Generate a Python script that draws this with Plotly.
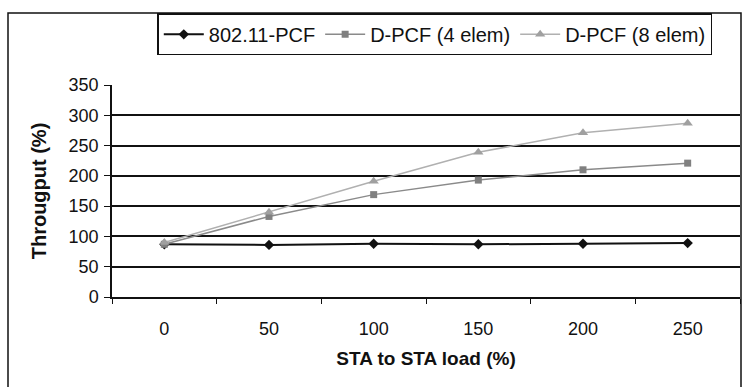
import plotly.graph_objects as go

loads = ["0", "50", "100", "150", "200", "250"]
pcf = [87, 86, 88, 87, 88, 89]
dpcf4 = [87, 133, 169, 193, 210, 221]
dpcf8 = [90, 140, 191, 239, 271, 287]

font = "Liberation Sans, Arial, sans-serif"

fig = go.Figure()
fig.add_trace(go.Scatter(x=loads, y=pcf, name="802.11-PCF", mode="lines+markers",
                         line=dict(color="#111111", width=2),
                         marker=dict(symbol="diamond", size=8, color="#111111")))
fig.add_trace(go.Scatter(x=loads, y=dpcf4, name="D-PCF (4 elem)", mode="lines+markers",
                         line=dict(color="#8a8a8a", width=1.5),
                         marker=dict(symbol="square", size=7, color="#808080")))
fig.add_trace(go.Scatter(x=loads, y=dpcf8, name="D-PCF (8 elem)", mode="lines+markers",
                         line=dict(color="#b0b0b0", width=1.5),
                         marker=dict(symbol="triangle-up", size=9, color="#a0a0a0")))

fig.update_layout(
    width=743, height=387,
    margin=dict(l=112, r=3, t=85, b=90),
    paper_bgcolor="white", plot_bgcolor="white",
    font=dict(family=font, size=18, color="#111111"),
    showlegend=True,
    legend=dict(orientation="h", x=0.514, xanchor="center", y=1.338, yanchor="top",
                bordercolor="#111111", borderwidth=1.5, font=dict(size=20),
                bgcolor="white", itemwidth=40, tracegroupgap=0),
    xaxis=dict(type="category", showgrid=False, showline=True, linecolor="#111111", linewidth=1.5,
               ticks="outside", ticklen=5, tickcolor="#111111", tickson="boundaries",
               ticklabelstandoff=15,
               title=dict(text="<b>STA to STA load (%)</b>", font=dict(size=19), standoff=13),
               range=[-0.5, 5.5]),
    yaxis=dict(range=[0, 350], dtick=50, showgrid=True, gridcolor="#111111", gridwidth=1.5,
               showline=True, linecolor="#111111", linewidth=1.5,
               ticks="outside", ticklen=6, tickcolor="#111111",
               ticklabelstandoff=2, zeroline=False,
               title=dict(text="<b>Througput (%)</b>", font=dict(size=20), standoff=17)),
    shapes=[dict(type="rect", xref="paper", yref="paper",
                 x0=(8 - 112) / 628, x1=(741 - 112) / 628,
                 y0=(297 - 390) / 212, y1=(297 - 13) / 212,
                 line=dict(color="#111111", width=1.5), layer="below")],
)

fig.write_html("out.html", config={"displayModeBar": False},
               post_script="document.body.style.margin='0';document.body.style.padding='0';")
